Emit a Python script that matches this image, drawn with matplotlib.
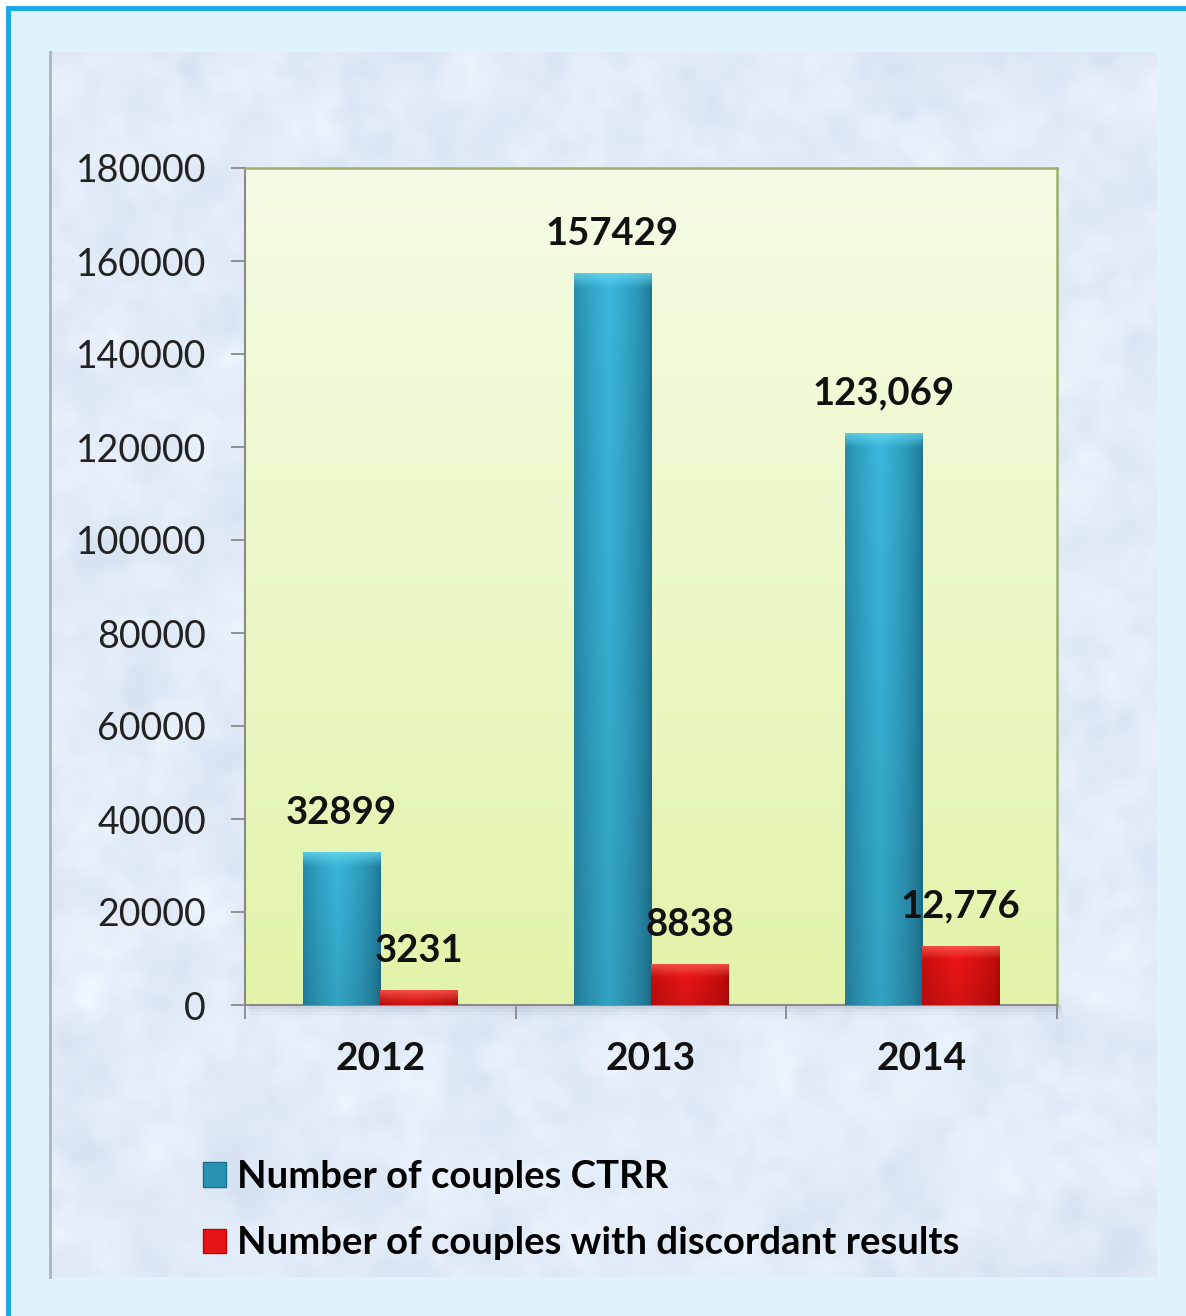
import numpy as np
import matplotlib.pyplot as plt
from matplotlib.patches import Rectangle, Patch
from matplotlib.colors import to_rgb

plt.rcParams['font.family'] = ['Lato', 'DejaVu Sans']

# ---- data ----
years = ["2012", "2013", "2014"]
ctrr = [32899, 157429, 123069]
discordant = [3231, 8838, 12776]
ctrr_labels = ["32899", "157429", "123,069"]
disc_labels = ["3231", "8838", "12,776"]
series_names = ["Number of couples CTRR", "Number of couples with discordant results"]
yticks = [0, 20000, 40000, 60000, 80000, 100000, 120000, 140000, 160000, 180000]

W, H = 1186, 1316
fig = plt.figure(figsize=(W / 100, H / 100), dpi=100)
fig.patch.set_facecolor("white")


def smooth_noise(shape, sigma, seed):
    rng = np.random.default_rng(seed)
    n = rng.standard_normal(shape)
    fy = np.fft.fftfreq(shape[0])[:, None]
    fx = np.fft.fftfreq(shape[1])[None, :]
    g = np.exp(-2 * (np.pi * sigma) ** 2 * (fx ** 2 + fy ** 2))
    out = np.real(np.fft.ifft2(np.fft.fft2(n) * g))
    out = (out - out.mean()) / out.std()
    return out


# outer frame
bg = fig.add_axes([0, 0, 1, 1])
bg.set_xlim(0, W)
bg.set_ylim(H, 0)
bg.axis("off")
bg.add_patch(Rectangle((8, 8), W, H, facecolor="#e0f2fc", edgecolor="#14aae6", lw=3.5))

# mottled inner panel
px0, px1, py0, py1 = 50, 1157, 52, 1277
tex = 0.6 * smooth_noise((300, 280), 4, 1) + 0.4 * smooth_noise((300, 280), 1.5, 2)
base = np.array(to_rgb("#e2ecf8"))
img = base[None, None, :] + 0.02 * tex[:, :, None] * np.array([1.0, 0.85, 0.5])
bg.imshow(np.clip(img, 0, 1), extent=[px0, px1, py1, py0], aspect="auto", interpolation="bicubic", zorder=1)
bg.plot([px0, px0], [py0, py1], color="#aab4c0", lw=2, zorder=2)
# soft shadow under the plot area
for i, a in enumerate([0.10, 0.07, 0.04, 0.02]):
    bg.add_patch(Rectangle((248 + i, 1005), 812, 4 + 3 * i, facecolor="#7f8a99", alpha=a, lw=0, zorder=2))

# ---- plot area ----
ax = fig.add_axes([245 / W, 1 - 1005 / H, (1057 - 245) / W, (1005 - 168) / H])
ax.set_xlim(-0.5, 2.5)
ax.set_ylim(0, 180000)
ax.set_facecolor("none")

grad = np.linspace(0, 1, 256)[:, None]
top_c = np.array(to_rgb("#f5fce6"))
bot_c = np.array(to_rgb("#e2f4aa"))
area = top_c[None, None, :] * (1 - grad[:, :, None]) + bot_c[None, None, :] * grad[:, :, None]
ax.imshow(area, extent=[-0.5, 2.5, 0, 180000], aspect="auto", zorder=0)

x = np.arange(len(years))
bw = 0.285


def bar_shading(light, mid, dark, height_frac):
    # horizontal rounded profile with a lighter bevel on top
    nx, ny = 60, 200
    u = np.linspace(0, 1, nx)
    prof = np.clip(1 - np.abs(u - 0.45) / 0.55, 0, 1) ** 0.6
    light, mid, dark = map(lambda c: np.array(to_rgb(c)), (light, mid, dark))
    body = dark[None, :] * (1 - prof[:, None]) + mid[None, :] * prof[:, None]
    im = np.repeat(body[None, :, :], ny, axis=0)
    v = np.linspace(0, 1, ny)  # 0 = top
    bev = np.clip(1 - v / max(height_frac, 1e-3), 0, 1)
    im = im * (1 - 0.75 * bev[:, None, None]) + light[None, None, :] * 0.75 * bev[:, None, None]
    shade = 1 - 0.12 * v
    return np.clip(im * shade[:, None, None], 0, 1)


px_per_unit = (1005 - 168) / 180000
for vals, off, cols in [(ctrr, -bw / 2, ("#6adaf4", "#3ab8dc", "#1d7392")),
                        (discordant, bw / 2, ("#ff6a5a", "#f01616", "#b80808"))]:
    bars = ax.bar(x + off, vals, width=bw, color=cols[1], lw=0, zorder=2)
    for b, v in zip(bars, vals):
        frac = 14 / max(v * px_per_unit, 1)
        im = ax.imshow(bar_shading(*cols, frac), extent=[b.get_x(), b.get_x() + bw, 0, v],
                       aspect="auto", zorder=3, interpolation="bilinear")
        im.set_clip_path(b)

for xi, v, lab in zip(x - bw / 2, ctrr, ctrr_labels):
    ax.text(xi, v + 8400, lab, ha="center", va="center", fontsize=27.5, fontweight="bold", color="#111111", zorder=5)
for xi, v, lab in zip(x + bw / 2, discordant, disc_labels):
    ax.text(xi, v + 8400, lab, ha="center", va="center", fontsize=27.5, fontweight="bold", color="#111111", zorder=5)

ax.set_yticks(yticks)
ax.set_yticklabels([str(t) for t in yticks], fontsize=27, color="#222222")
ax.set_xticks([-0.5, 0.5, 1.5, 2.5])
ax.set_xticklabels([])
ax.set_xticks(x, minor=True)
ax.set_xticklabels(years, minor=True, fontsize=28, fontweight="bold", color="#111111")
ax.tick_params(axis="x", which="minor", length=0, pad=26)
ax.tick_params(axis="x", which="major", length=10, width=1.3, color="#8a8a8a", direction="out")
ax.tick_params(axis="y", length=10, width=1.3, color="#8a8a8a", direction="out", pad=18)

for s in ["left", "bottom"]:
    ax.spines[s].set_color("#8a8a8a")
    ax.spines[s].set_linewidth(1.5)
for s in ["top", "right"]:
    ax.spines[s].set_color("#9cb06c")
    ax.spines[s].set_linewidth(1.8)

handles = [Patch(facecolor="#2a93b4", edgecolor="#1b6f8e"),
           Patch(facecolor="#e81414", edgecolor="#b80808")]
fig.legend(handles, series_names, loc="upper left", bbox_to_anchor=(203 / W, 1 - 1160 / H),
           frameon=False, prop={"weight": "bold", "size": 27.5}, handlelength=0.6, handleheight=0.6,
           handletextpad=0.3, labelspacing=0.85, borderpad=0, borderaxespad=0)

fig.savefig("out.png", dpi=100)
